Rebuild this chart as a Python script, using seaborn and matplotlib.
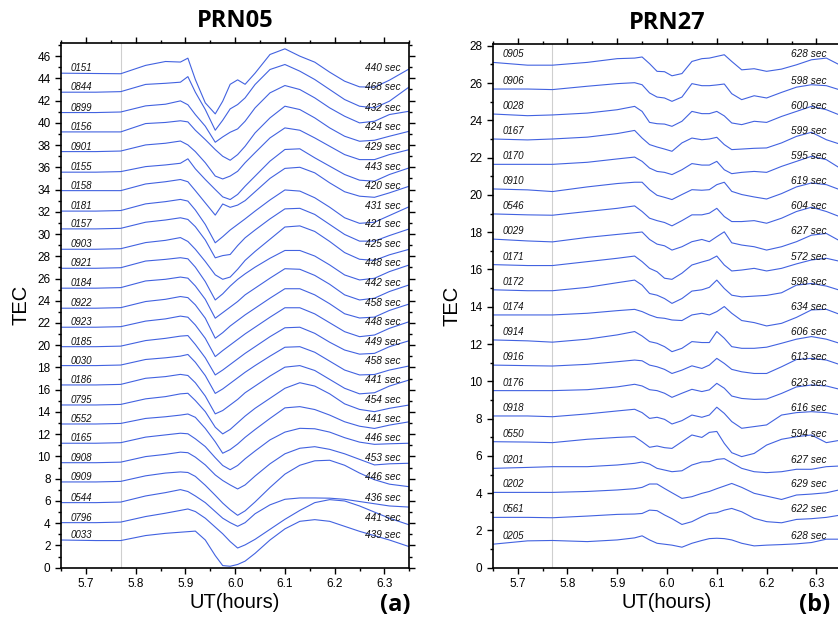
import matplotlib
matplotlib.use("Agg")
import matplotlib.pyplot as plt
import numpy as np
import pandas as pd
import seaborn as sns
from matplotlib.ticker import MultipleLocator, FormatStrFormatter

# ---------------- PRN05 (panel a) ----------------
PRN05_STATIONS = ["0151", "0844", "0899", "0156", "0901", "0155", "0158", "0181", "0157",
                  "0903", "0921", "0184", "0922", "0923", "0185", "0030", "0186", "0795",
                  "0552", "0165", "0908", "0909", "0544", "0796", "0033"]
PRN05_DELAYS = [440, 468, 432, 424, 429, 443, 420, 431, 421, 425, 448, 442, 458, 448,
                449, 458, 441, 454, 441, 446, 453, 446, 436, 441, 439]
PRN05_BASE = [44.46, 42.75, 40.92, 39.18, 37.41, 35.56, 33.90, 32.06, 30.46, 28.63,
              26.92, 25.13, 23.33, 21.62, 19.87, 18.17, 16.43, 14.63, 12.92, 11.19,
              9.44, 7.71, 5.85, 4.05, 2.49]
PRN05_TIME = [5.65, 5.72, 5.77, 5.82, 5.86, 5.89, 5.905, 5.92, 5.94, 5.96, 5.975, 5.99,
              6.005, 6.02, 6.04, 6.07, 6.10, 6.13, 6.16, 6.19, 6.22, 6.25, 6.28, 6.31, 6.35]
PRN05_DELTA = [
    [0, -0.03, -0.05, 0.7, 1.05, 1.0, 1.35, -0.57, -2.67, -3.66, -2.52, -1.0, -0.6, -1.0, 0.0, 1.68, 2.19, 1.53, 0.99, 0.09, -0.72, -1.23, -1.26, -0.63, 0.39],
    [0, 0, 0.05, 0.7, 0.8, 0.9, 1.4, 0.0, -1.56, -3.42, -2.52, -1.5, -1.11, -0.51, 0.69, 2.04, 2.49, 1.89, 1.14, 0.24, -0.66, -1.26, -1.41, -0.81, 0.48],
    [0, 0, 0.05, 0.6, 0.75, 1.05, 0.7, -0.18, -1.23, -2.67, -2.19, -1.77, -1.47, -0.78, 0.42, 1.77, 2.43, 2.07, 1.32, 0.42, -0.33, -0.93, -0.78, -0.18, 0.12],
    [0, 0, 0, 0.75, 0.85, 1.0, 0.9, 0.15, -0.69, -1.59, -2.19, -2.55, -2.04, -1.29, -0.09, 1.26, 2.31, 2.01, 1.26, 0.36, -0.39, -0.84, -0.75, -0.39, 0.06],
    [0, 0, 0.05, 0.6, 0.75, 0.95, 0.6, 0.0, -1.0, -2.2, -2.46, -2.2, -1.77, -1.0, -0.1, 1.23, 2.13, 1.92, 1.23, 0.48, -0.27, -0.72, -0.72, -0.27, 0.18],
    [0, 0, 0.05, 0.5, 0.65, 0.8, 1.2, 0.3, -0.66, -1.56, -2.22, -2.46, -2.0, -1.26, -0.36, 0.99, 2.04, 2.1, 1.29, 0.54, -0.21, -0.72, -0.81, -0.21, 0.39],
    [0, 0, 0, 0.6, 0.8, 1.0, 0.8, 0.0, -1.1, -2.2, -1.2, -1.5, -1.3, -0.9, -0.1, 1.1, 2.0, 2.1, 1.6, 0.7, -0.1, -0.5, -0.6, -0.2, 0.4],
    [0, 0, 0.05, 0.65, 0.85, 1.05, 0.9, 0.1, -1.2, -2.85, -2.3, -1.7, -1.2, -0.7, 0.0, 1.0, 1.9, 1.8, 1.2, 0.35, -0.6, -1.1, -1.0, -0.4, 0.4],
    [0, 0, 0.05, 0.6, 0.8, 1.0, 0.85, 0.2, -1.0, -2.6, -2.4, -2.3, -1.5, -0.8, -0.1, 0.9, 1.8, 1.85, 1.3, 0.4, -0.5, -1.1, -1.1, -0.6, 0.0],
    [0, 0, 0.05, 0.6, 0.8, 1.05, 0.7, 0.0, -1.1, -2.3, -2.7, -2.5, -1.8, -1.0, -0.2, 0.9, 2.0, 2.1, 1.6, 0.7, -0.3, -0.9, -1.0, -0.5, 0.0],
    [0, 0, 0.05, 0.65, 0.8, 0.95, 0.85, 0.1, -1.2, -2.85, -2.3, -1.6, -1.0, -0.5, 0.1, 0.9, 1.6, 1.6, 1.1, 0.3, -0.6, -1.05, -0.9, -0.3, 0.3],
    [0, 0, 0.05, 0.65, 0.8, 1.0, 0.9, 0.2, -1.0, -2.7, -2.2, -1.7, -1.2, -0.6, 0.0, 0.9, 1.75, 1.7, 1.15, 0.35, -0.6, -1.06, -0.9, -0.3, 0.3],
    [0, 0, 0.05, 0.6, 0.8, 1.05, 0.95, 0.3, -0.9, -2.7, -2.2, -1.6, -1.1, -0.6, 0.0, 0.9, 1.75, 1.75, 1.2, 0.4, -0.5, -0.88, -0.8, -0.2, 0.38],
    [0, 0, 0.05, 0.55, 0.75, 1.0, 0.9, 0.2, -1.0, -2.64, -2.1, -1.6, -1.1, -0.6, 0.0, 0.9, 1.75, 1.75, 1.2, 0.4, -0.4, -0.85, -0.7, -0.1, 0.5],
    [0, 0, 0.05, 0.55, 0.75, 0.95, 1.0, 0.2, -1.0, -2.54, -2.1, -1.6, -1.1, -0.6, 0.0, 0.9, 1.7, 1.75, 1.2, 0.4, -0.3, -0.67, -0.6, 0.0, 0.54],
    [0, 0, 0.05, 0.55, 0.7, 0.85, 1.0, 0.3, -0.9, -2.5, -2.1, -1.6, -1.1, -0.6, 0.0, 0.85, 1.65, 1.7, 1.2, 0.4, -0.4, -0.84, -0.8, -0.4, -0.03],
    [0, 0, 0.05, 0.6, 0.75, 0.95, 0.85, 0.2, -1.0, -2.6, -2.3, -1.8, -1.3, -0.7, -0.1, 0.8, 1.6, 1.74, 1.3, 0.5, -0.3, -0.8, -0.7, -0.1, 0.45],
    [0, 0, 0.05, 0.55, 0.75, 1.0, 1.05, 0.4, -0.6, -2.0, -2.6, -2.2, -1.6, -1.0, -0.3, 0.6, 1.5, 2.0, 1.7, 1.0, 0.1, -0.4, -0.6, -0.3, 0.0],
    [0, 0, 0.05, 0.5, 0.65, 0.8, 0.9, 0.6, -0.4, -1.6, -2.63, -2.3, -1.8, -1.2, -0.5, 0.5, 1.45, 1.56, 1.3, 0.8, 0.2, -0.2, -0.4, -0.1, 0.2],
    [0, 0, 0.05, 0.55, 0.75, 0.9, 0.85, 0.4, -0.3, -1.3, -2.0, -2.38, -2.0, -1.4, -0.7, 0.3, 1.0, 1.34, 1.3, 1.0, 0.5, 0.1, -0.1, -0.05, 0.0],
    [0, 0, 0.05, 0.55, 0.75, 0.95, 0.9, 0.5, -0.2, -1.1, -1.6, -2.0, -2.36, -2.0, -1.2, -0.1, 0.8, 1.3, 1.44, 1.2, 0.8, 0.3, -0.2, -0.1, -0.05],
    [0, 0, 0.05, 0.55, 0.8, 0.9, 0.85, 0.5, -0.3, -1.2, -1.9, -2.5, -3.0, -2.6, -1.8, -0.5, 0.7, 1.5, 1.9, 1.95, 1.5, 0.8, 0.2, -0.2, -0.43],
    [0, 0, 0.05, 0.6, 0.9, 1.17, 1.0, 0.6, 0.0, -0.8, -1.4, -1.8, -2.13, -1.8, -1.0, -0.2, 0.3, 0.42, 0.42, 0.4, 0.3, 0.1, -0.1, -0.3, -0.4],
    [0, 0, 0.05, 0.55, 0.85, 1.1, 1.23, 1.0, 0.4, -0.4, -1.0, -1.7, -2.28, -2.0, -1.5, -0.6, 0.3, 1.1, 1.8, 2.07, 1.95, 1.5, 0.95, 0.4, -0.2],
    [0, -0.05, -0.05, 0.4, 0.6, 0.7, 0.75, 0.8, 0.0, -1.4, -2.3, -2.36, -2.2, -1.9, -1.2, 0.0, 1.0, 1.68, 1.83, 1.68, 1.23, 0.78, 0.39, 0.0, -0.6],
]

# ---------------- PRN27 (panel b) ----------------
PRN27_STATIONS = ["0905", "0906", "0028", "0167", "0170", "0910", "0546", "0029", "0171",
                  "0172", "0174", "0914", "0916", "0176", "0918", "0550", "0201", "0202",
                  "0561", "0205"]
PRN27_DELAYS = [628, 598, 600, 599, 595, 619, 604, 627, 572, 598, 634, 606, 613, 623,
                616, 594, 627, 629, 622, 628]
PRN27_BASE = [27.11, 25.68, 24.34, 23.0, 21.64, 20.32, 18.98, 17.63, 16.26, 14.91,
              13.56, 12.22, 10.87, 9.5, 8.14, 6.76, 5.33, 4.04, 2.70, 1.26]
PRN27_TIME = [5.65, 5.72, 5.77, 5.84, 5.90, 5.935, 5.95, 5.965, 5.98, 5.995, 6.01, 6.03,
              6.05, 6.07, 6.085, 6.10, 6.115, 6.13, 6.15, 6.175, 6.20, 6.23, 6.26, 6.29,
              6.32, 6.35]
PRN27_DELTA = [
    [0, -0.15, -0.15, 0.0, 0.2, 0.23, 0.29, -0.07, -0.48, -0.5, -0.72, -0.6, 0.05, 0.2, 0.23, 0.32, 0.41, 0.05, -0.4, -0.34, -0.48, -0.36, -0.13, 0.14, 0.23, -0.18],
    [0, 0.0, -0.03, 0.15, 0.29, 0.34, 0.23, -0.21, -0.43, -0.48, -0.66, -0.43, 0.29, 0.18, 0.18, 0.22, 0.27, -0.25, -0.57, -0.36, -0.48, -0.18, 0.1, 0.23, 0.18, -0.07],
    [0, -0.09, -0.05, 0.05, 0.23, 0.41, 0.14, -0.45, -0.52, -0.54, -0.66, -0.39, 0.14, 0.02, 0.02, 0.14, -0.1, -0.48, -0.57, -0.39, -0.45, -0.13, 0.14, 0.41, 0.23, -0.09],
    [0, -0.05, 0, 0.1, 0.29, 0.46, 0.05, -0.3, -0.43, -0.54, -0.66, -0.21, 0.05, -0.04, 0.0, 0.09, -0.3, -0.57, -0.54, -0.5, -0.48, -0.21, 0.14, 0.36, -0.04, -0.3],
    [0, 0, 0, 0.11, 0.29, 0.39, 0.16, -0.2, -0.38, -0.43, -0.55, -0.29, 0.04, -0.04, -0.04, 0.16, -0.29, -0.5, -0.43, -0.38, -0.43, -0.11, 0.16, 0.43, 0.25, -0.25],
    [0, -0.05, -0.14, 0.11, 0.29, 0.36, 0.36, -0.04, -0.34, -0.45, -0.57, -0.3, -0.04, -0.07, -0.04, 0.23, 0.36, -0.13, -0.3, -0.43, -0.54, -0.25, 0.11, 0.32, 0.23, -0.07],
    [0, -0.05, -0.07, 0.13, 0.3, 0.43, 0.13, -0.23, -0.36, -0.46, -0.64, -0.36, -0.05, -0.05, 0.04, 0.3, -0.14, -0.41, -0.41, -0.36, -0.5, -0.23, 0.13, 0.36, 0.13, -0.18],
    [0, -0.1, -0.15, 0.09, 0.25, 0.34, 0.38, -0.02, -0.27, -0.36, -0.59, -0.41, -0.14, -0.02, -0.14, 0.13, 0.39, -0.2, -0.32, -0.41, -0.59, -0.41, -0.14, 0.21, 0.3, -0.14],
    [0, -0.05, -0.05, 0.16, 0.34, 0.46, 0.16, -0.2, -0.38, -0.73, -0.79, -0.46, -0.02, 0.14, 0.25, 0.46, -0.02, -0.34, -0.29, -0.2, -0.34, -0.2, 0.04, 0.25, 0.34, 0.16],
    [0, -0.05, -0.05, 0.13, 0.38, 0.52, 0.25, -0.2, -0.29, -0.47, -0.73, -0.47, -0.07, 0.0, 0.13, 0.52, 0.07, -0.29, -0.38, -0.34, -0.3, -0.16, 0.25, 0.34, 0.2, -0.05],
    [0, 0, 0, 0.09, 0.23, 0.3, 0.18, 0, -0.14, -0.18, -0.27, -0.3, 0, 0.09, 0, 0.18, 0.45, 0.09, -0.3, -0.41, -0.59, -0.45, -0.13, 0.27, 0.3, 0],
    [0, -0.05, -0.12, 0.04, 0.27, 0.45, 0.21, -0.09, -0.18, -0.36, -0.63, -0.45, -0.09, -0.14, -0.14, 0.45, 0.09, -0.36, -0.45, -0.45, -0.39, -0.18, 0.04, 0.18, 0.04, -0.21],
    [0, -0.03, -0.05, 0.04, 0.18, 0.27, 0.23, 0, -0.09, -0.23, -0.45, -0.27, -0.04, -0.18, 0, 0.36, 0.09, -0.23, -0.36, -0.45, -0.45, -0.09, 0.3, 0.36, 0.27, 0],
    [0, 0, 0, 0.05, 0.2, 0.34, 0.25, 0.05, 0, -0.14, -0.36, -0.14, 0.07, -0.05, 0.04, 0.39, 0.13, -0.29, -0.42, -0.47, -0.45, -0.15, 0.2, 0.3, 0.25, 0.05],
    [0, 0, -0.04, 0.11, 0.27, 0.36, 0.18, -0.13, -0.07, -0.18, -0.43, -0.25, 0.05, -0.07, 0.05, 0.47, 0.14, -0.3, -0.66, -0.57, -0.48, 0.05, 0.18, 0.23, 0.18, 0.05],
    [0, -0.02, -0.05, 0.13, 0.23, 0.27, 0, -0.3, -0.23, -0.32, -0.36, 0, 0.36, 0.23, 0.5, 0.55, -0.09, -0.59, -0.8, -0.63, -0.18, 0.13, 0.27, 0.36, -0.05, 0.09],
    [0, 0.05, 0.09, 0.09, 0.18, 0.27, 0.34, 0.23, 0, -0.09, -0.18, -0.13, 0.18, 0.34, 0.36, 0.48, 0.52, 0.3, 0, -0.18, -0.23, -0.18, -0.05, -0.05, 0.09, 0.13],
    [0, 0, 0, 0.05, 0.13, 0.2, 0.27, 0.45, 0.45, 0.21, -0.02, -0.32, -0.23, -0.05, 0.05, 0.2, 0.34, 0.48, 0.27, -0.05, -0.2, -0.38, -0.14, -0.09, -0.02, 0.16],
    [0, 0, -0.02, 0.07, 0.16, 0.18, 0.21, 0.39, 0.36, 0.13, -0.07, -0.38, -0.23, 0.04, 0.21, 0.25, 0.39, 0.48, 0.3, -0.05, -0.23, -0.29, -0.11, -0.07, 0, 0.13],
    [0, 0.18, 0.2, 0.14, 0.23, 0.34, 0.45, 0.23, 0.05, 0, -0.05, -0.16, 0.05, 0.2, 0.3, 0.32, 0.3, 0.23, 0.05, -0.09, -0.05, -0.02, 0.02, 0.09, 0.27, 0.27],
]

LINE_COLOR = "#4262e0"

sns.set_theme(style="ticks")
plt.rcParams["font.family"] = ["Liberation Sans", "DejaVu Sans"]
plt.rcParams["text.color"] = "black"
plt.rcParams["axes.labelcolor"] = "black"
plt.rcParams["xtick.color"] = "black"
plt.rcParams["ytick.color"] = "black"

fig = plt.figure(figsize=(8.38, 6.21), dpi=100)
W, H = 838.0, 621.0


def make_axes(left_px, top_px, right_px, bottom_px):
    return fig.add_axes([left_px / W, 1 - bottom_px / H,
                         (right_px - left_px) / W, (bottom_px - top_px) / H])


def draw_panel(ax, times, bases, deltas, stations, delays, ylim, label_dy, right_t,
               title, tag, tag_x):
    rows = []
    for st, b, d in zip(stations, bases, deltas):
        assert len(d) == len(times), st
        for t, v in zip(times, d):
            rows.append((st, t, b + v))
    df = pd.DataFrame(rows, columns=["station", "t", "tec"])
    ax.axvline(5.77, color="#cfcfcf", lw=0.8, zorder=0)
    sns.lineplot(data=df, x="t", y="tec", units="station", estimator=None,
                 color=LINE_COLOR, lw=0.8, sort=False, legend=False, ax=ax)
    for st, b, dl in zip(stations, bases, delays):
        ax.text(5.67, b + label_dy, st, style="italic", fontsize=7, ha="left",
                va="center", color="#111111")
        ax.text(right_t, b + label_dy, f"{dl} sec", style="italic", fontsize=7.3,
                ha="right", va="center", color="#111111")
    ax.set_xlim(5.65, 6.35)
    ax.set_ylim(*ylim)
    ax.xaxis.set_major_locator(MultipleLocator(0.1))
    ax.xaxis.set_minor_locator(MultipleLocator(0.05))
    ax.xaxis.set_major_formatter(FormatStrFormatter("%.1f"))
    ax.yaxis.set_major_locator(MultipleLocator(2))
    ax.yaxis.set_minor_locator(MultipleLocator(1))
    ax.tick_params(which="both", direction="out", top=True, right=True,
                   labeltop=False, labelright=False, colors="black",
                   labelsize=8.5, width=1.0)
    ax.tick_params(which="major", length=4)
    ax.tick_params(which="minor", length=2.5)
    for sp in ax.spines.values():
        sp.set_linewidth(1.2)
        sp.set_color("black")
        sp.set_visible(True)
    ax.set_xlabel("UT(hours)", fontsize=14.5, color="black")
    ax.set_ylabel("TEC", fontsize=14.5, color="black")
    ax.xaxis.set_label_coords(0.5, -0.048)
    ax.yaxis.set_label_coords(-31.0 / 349.0, 0.5)
    ax.set_title(title, fontsize=17, fontweight="bold", family=["Open Sans", "DejaVu Sans"],
                 pad=11, color="black")
    fig.text(tag_x / W, 1 - 605 / H, tag, fontsize=17, fontweight="bold",
             family=["Open Sans", "DejaVu Sans"], ha="center", va="center", color="black")


ax_a = make_axes(61, 42.7, 409.3, 567.7)
draw_panel(ax_a, PRN05_TIME, PRN05_BASE, PRN05_DELTA, PRN05_STATIONS, PRN05_DELAYS,
           (0, 47.2), 0.45, 6.3325, "PRN05", "(a)", 395)

ax_b = make_axes(492.7, 44.3, 492.7 + 348.6, 567.7)
draw_panel(ax_b, PRN27_TIME, PRN27_BASE, PRN27_DELTA, PRN27_STATIONS, PRN27_DELAYS,
           (0, 28.08), 0.43, 6.3207, "PRN27", "(b)", 815)

fig.savefig("out.png", dpi=100)
